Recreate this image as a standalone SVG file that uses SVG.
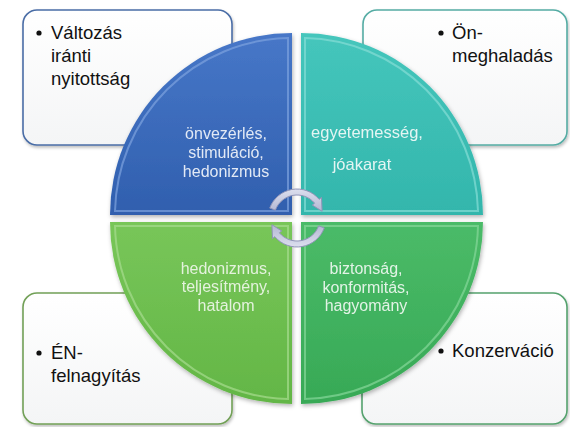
<svg xmlns="http://www.w3.org/2000/svg" width="570" height="427" viewBox="0 0 570 427">
<style>
.box{fill:url(#boxg);stroke-width:1.6;filter:url(#sh)}
.bt{font-family:"Liberation Sans",Arial,sans-serif;font-size:18.5px;fill:#111}
.qt{font-family:"Liberation Sans",Arial,sans-serif;font-size:16px;text-anchor:middle}
.q{filter:url(#sh2)}
.arr{fill:url(#ag);stroke:#9094b8;stroke-width:1}
</style>
<defs>
<linearGradient id="boxg" x1="0" y1="0" x2="0" y2="1"><stop offset="0" stop-color="#ffffff"/><stop offset="1" stop-color="#f4f5f6"/></linearGradient>
<linearGradient id="gb" x1="0" y1="0" x2="0" y2="1"><stop offset="0" stop-color="#4777c8"/><stop offset="1" stop-color="#305fae"/></linearGradient>
<linearGradient id="gt" x1="0" y1="0" x2="0" y2="1"><stop offset="0" stop-color="#45c6bc"/><stop offset="1" stop-color="#33b6ac"/></linearGradient>
<linearGradient id="gg1" x1="0" y1="0" x2="0" y2="1"><stop offset="0" stop-color="#78c659"/><stop offset="1" stop-color="#63b646"/></linearGradient>
<linearGradient id="gg2" x1="0" y1="0" x2="0" y2="1"><stop offset="0" stop-color="#4bbb68"/><stop offset="1" stop-color="#37a956"/></linearGradient>
<linearGradient id="ag" x1="0" y1="0" x2="0" y2="1"><stop offset="0" stop-color="#dcdfee"/><stop offset="1" stop-color="#b3b7d3"/></linearGradient>
<filter id="sh" x="-10%" y="-10%" width="120%" height="120%"><feDropShadow dx="1" dy="2" stdDeviation="1.5" flood-color="#000" flood-opacity="0.25"/></filter>
<filter id="sh2" x="-10%" y="-10%" width="120%" height="120%"><feDropShadow dx="1" dy="2" stdDeviation="2" flood-color="#000" flood-opacity="0.3"/></filter>
</defs>
<rect width="570" height="427" fill="#ffffff"/>

<g id="box-valtozas">
<rect class="box" x="23" y="10" width="209" height="135" rx="14" stroke="#4a6da6"/>
<circle cx="39" cy="33" r="2.6" fill="#111"/>
<text class="bt" x="51" y="39">Változás</text>
<text class="bt" x="51" y="62">iránti</text>
<text class="bt" x="51" y="85">nyitottság</text>
</g>
<g id="box-onmeghaladas">
<rect class="box" x="363" y="10" width="204" height="135" rx="14" stroke="#55aca4"/>
<circle cx="441" cy="33" r="2.6" fill="#111"/>
<text class="bt" x="452" y="39">Ön-</text>
<text class="bt" x="452" y="62">meghaladás</text>
</g>
<g id="box-en">
<rect class="box" x="23" y="293" width="209" height="131" rx="14" stroke="#72a057"/>
<circle cx="39" cy="353" r="2.6" fill="#111"/>
<text class="bt" x="51" y="359">ÉN-</text>
<text class="bt" x="51" y="382">felnagyítás</text>
</g>
<g id="box-konzervacio">
<rect class="box" x="362" y="293" width="205" height="131" rx="14" stroke="#55a26e"/>
<circle cx="441" cy="351" r="2.6" fill="#111"/>
<text class="bt" x="452" y="357">Konzerváció</text>
</g>

<g id="q-blue" class="q">
<path d="M292,215 L110,215 A182,182 0 0 1 292,33 Z" fill="url(#gb)"/>
<path d="M288,211 L115,211 A177,177 0 0 1 288,38 Z" fill="none" stroke="#7ea3de" stroke-width="2" opacity="0.7"/>
<text class="qt" fill="#e2e9f5"><tspan x="226" y="139">önvezérlés,</tspan><tspan x="226" y="158">stimuláció,</tspan><tspan x="226" y="177">hedonizmus</tspan></text>
</g>
<g id="q-teal" class="q">
<path d="M301,215 L301,33 A182,182 0 0 1 483,215 Z" fill="url(#gt)"/>
<path d="M305,211 L305,38 A177,177 0 0 1 478,211 Z" fill="none" stroke="#86ddd5" stroke-width="2" opacity="0.7"/>
<text class="qt" fill="#e4f5f3" style="font-size:16.5px"><tspan x="367" y="138">egyetemesség,</tspan><tspan x="362" y="170">jóakarat</tspan></text>
</g>
<g id="q-green1" class="q">
<path d="M292,222 L292,404 A182,182 0 0 1 110,222 Z" fill="url(#gg1)"/>
<path d="M288,226 L288,399 A177,177 0 0 1 115,226 Z" fill="none" stroke="#a6dc8e" stroke-width="2" opacity="0.7"/>
<text class="qt" fill="#e4f2dd"><tspan x="226" y="274">hedonizmus,</tspan><tspan x="226" y="292">teljesítmény,</tspan><tspan x="226" y="311">hatalom</tspan></text>
</g>
<g id="q-green2" class="q">
<path d="M301,222 L483,222 A182,182 0 0 1 301,404 Z" fill="url(#gg2)"/>
<path d="M305,226 L478,226 A177,177 0 0 1 305,399 Z" fill="none" stroke="#86d79a" stroke-width="2" opacity="0.7"/>
<text class="qt" fill="#e2f3e6"><tspan x="366" y="274">biztonság,</tspan><tspan x="366" y="293">konformitás,</tspan><tspan x="366" y="311">hagyomány</tspan></text>
</g>

<g id="connectors">
<path class="arr" d="M269.75,208.08 A29,29 0 0 1 319.2,199.35 L321.5,197.4 L322.1,211.3 L312.3,205.1 L314.6,203.2 A23,23 0 0 0 275.39,210.13 Z"/>
<path class="arr" d="M269.75,208.08 A29,29 0 0 1 319.2,199.35 L321.5,197.4 L322.1,211.3 L312.3,205.1 L314.6,203.2 A23,23 0 0 0 275.39,210.13 Z" transform="rotate(180 297 218)"/>
</g>
</svg>
